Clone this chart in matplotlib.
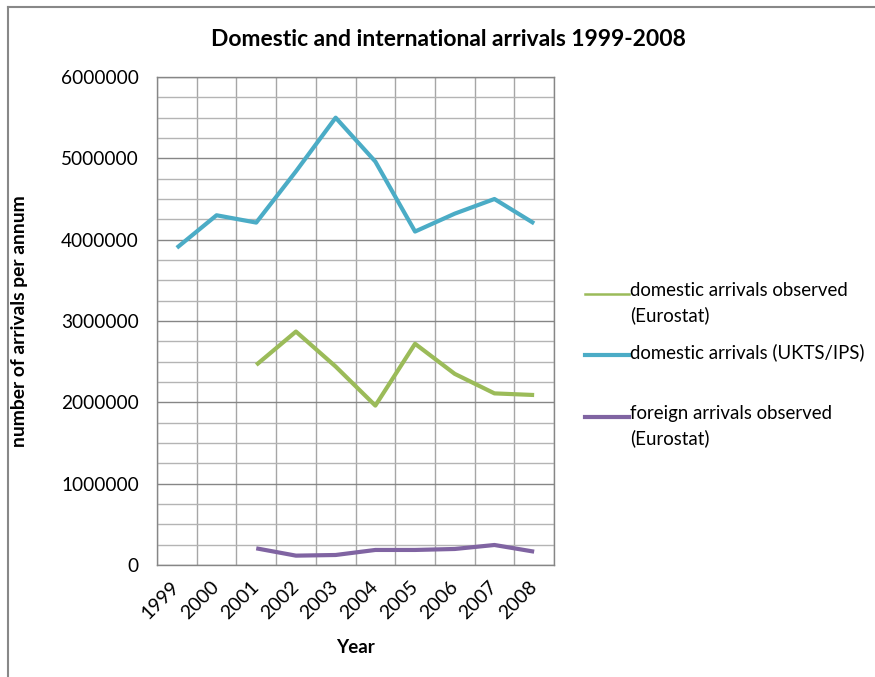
import numpy as np
import matplotlib
matplotlib.use("Agg")
import matplotlib.pyplot as plt
from matplotlib.lines import Line2D
from matplotlib.ticker import MultipleLocator, StrMethodFormatter

plt.rcParams['font.family'] = ['Lato', 'DejaVu Sans']

years = ['1999', '2000', '2001', '2002', '2003', '2004', '2005', '2006', '2007', '2008']

# domestic arrivals from UKTS/IPS, all years
dom_ukts = [3900000, 4300000, 4210000, 4840000, 5500000, 4960000, 4100000, 4320000, 4500000, 4200000]
# Eurostat series start in 2001
dom_eurostat = [np.nan, np.nan, 2460000, 2870000, 2440000, 1960000, 2720000, 2350000, 2110000, 2090000]
foreign_eurostat = [np.nan, np.nan, 205000, 115000, 123000, 185000, 185000, 197000, 246000, 164000]

labels = ['domestic arrivals observed\n(Eurostat)',
          'domestic arrivals (UKTS/IPS)',
          'foreign arrivals observed\n(Eurostat)']
colors = ['#9BBB59', '#4BACC6', '#8064A2']

fig = plt.figure(figsize=(8.75, 6.77), dpi=100)
ax = fig.add_axes([157 / 875, 1 - 565 / 677, 397 / 875, 488 / 677])

x = np.arange(len(years))
ax.plot(x, dom_eurostat, color=colors[0], lw=3.0, solid_capstyle='butt')
ax.plot(x, dom_ukts, color=colors[1], lw=3.0, solid_capstyle='butt')
ax.plot(x, foreign_eurostat, color=colors[2], lw=3.0, solid_capstyle='butt')

ax.set_xlim(-0.5, len(years) - 0.5)
ax.set_ylim(0, 6000000)

# horizontal grid: major every million, minor every quarter million
ax.yaxis.set_major_locator(MultipleLocator(1000000))
ax.yaxis.set_minor_locator(MultipleLocator(250000))
ax.yaxis.set_major_formatter(StrMethodFormatter('{x:.0f}'))
ax.grid(which='major', axis='y', color='#868686', lw=1)
ax.grid(which='minor', axis='y', color='#b4b4b4', lw=1)

# vertical grid sits between the categories
ax.set_xticks(np.arange(-0.5, len(years)), minor=True)
ax.grid(which='minor', axis='x', color='#a6a6a6', lw=1)
ax.set_xticks(x)
ax.set_xticklabels(years, rotation=45, ha='right', va='center', rotation_mode='anchor')
ax.set_axisbelow(True)

ax.tick_params(which='both', length=0)
ax.tick_params(axis='y', labelsize=13.7, pad=13)
ax.tick_params(axis='x', labelsize=14, pad=14)
for s in ax.spines.values():
    s.set_color('#868686')
    s.set_linewidth(1)

ax.set_xlabel('Year', fontsize=13.5, fontweight='bold', labelpad=12)
ax.set_ylabel('number of arrivals per annum', fontsize=13.9, fontweight='bold', labelpad=24)
fig.text(448 / 875, 1 - 40 / 677, 'Domestic and international arrivals 1999-2008',
         ha='center', va='center', fontsize=16.5, fontweight='bold')

# legend on the right, key line beside the first line of each label
legend_y = [294, 355, 417]
widths = [1.8, 3.0, 3.0]
for lab, c, yy, w in zip(labels, colors, legend_y, widths):
    fy = 1 - yy / 677
    fig.add_artist(Line2D([585 / 875, 629 / 875], [fy, fy], color=c, lw=w))
    fig.text(630 / 875, 1 - (yy - 12) / 677, lab, ha='left', va='top', fontsize=13.4,
             linespacing=1.5)

# outer chart frame
fig.add_artist(Line2D([7.5 / 875, 7.5 / 875], [0, 1 - 6.5 / 677], color='#888888', lw=1.5))
fig.add_artist(Line2D([7.5 / 875, 1], [1 - 6.5 / 677, 1 - 6.5 / 677], color='#888888', lw=1.5))

fig.savefig('out.png', dpi=100)
